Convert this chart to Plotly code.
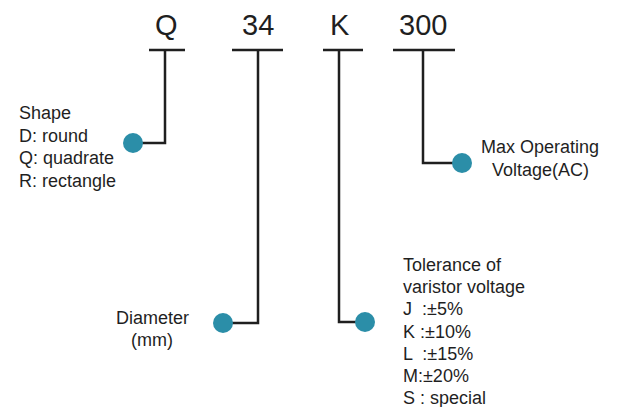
import plotly.graph_objects as go

# ---- data ----
codes = ["Q", "34", "K", "300"]
code_x = [166, 258, 340, 423]
bar_left = [149, 232, 323, 393]
bar_right = [185, 283, 363, 455]
stem_x = [165, 258, 339, 423]
dot_x = [133, 223, 365, 462]
dot_y = [143, 323, 322, 163]

shape_lines = ["Shape", "D: round", "Q: quadrate", "R: rectangle"]
diameter_lines = ["Diameter", "(mm)"]
voltage_lines = ["Max Operating", "Voltage(AC)"]
tolerance_lines = ["Tolerance of", "varistor voltage", "J  :±5%", "K :±10%",
                   "L  :±15%", "M:±20%", "S : special"]

W, H = 619, 407
OFF = 8  # page body margin
TEXT = "#1f1f1f"
TEAL = "#2b8ea8"
FONT = "Liberation Sans, Arial, sans-serif"
BAR_Y = 50

fig = go.Figure()

# connectors
for i in range(len(codes)):
    fig.add_trace(go.Scatter(x=[bar_left[i], bar_right[i]], y=[BAR_Y, BAR_Y], mode="lines",
                             line=dict(color=TEXT, width=2.5), hoverinfo="skip", showlegend=False))
    fig.add_trace(go.Scatter(x=[stem_x[i], stem_x[i], dot_x[i]], y=[BAR_Y, dot_y[i], dot_y[i]],
                             mode="lines", line=dict(color=TEXT, width=2.5),
                             hoverinfo="skip", showlegend=False))

fig.add_trace(go.Scatter(x=dot_x, y=dot_y, mode="markers",
                         marker=dict(size=20, color=TEAL, line=dict(width=0)),
                         hoverinfo="skip", showlegend=False))

annotations = []
for c, x in zip(codes, code_x):
    annotations.append(dict(x=x, y=25, text=c, showarrow=False, xanchor="center", yanchor="middle",
                            font=dict(family=FONT, size=29, color=TEXT)))

def block(lines, x, y0, dy, anchor):
    for k, t in enumerate(lines):
        annotations.append(dict(x=x, y=y0 + k * dy, text=t, showarrow=False,
                                xanchor=anchor, yanchor="middle",
                                font=dict(family=FONT, size=18, color=TEXT)))

block(shape_lines, 17, 113, 22.5, "left")
block(voltage_lines, 540, 147, 23, "center")
block(diameter_lines, 152, 318, 22, "center")
block(tolerance_lines, 401, 265, 22.2, "left")

fig.update_layout(
    width=W, height=H, margin=dict(l=0, r=0, t=0, b=0),
    paper_bgcolor="white", plot_bgcolor="white",
    xaxis=dict(range=[OFF, W + OFF], visible=False, fixedrange=True),
    yaxis=dict(range=[H + OFF, OFF], visible=False, fixedrange=True),
    annotations=annotations,
)

fig.write_html("out.html")
